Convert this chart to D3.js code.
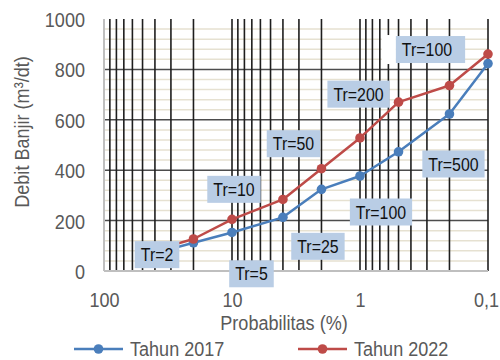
<!DOCTYPE html>
<html>
<head>
<meta charset="utf-8">
<script src="https://cdn.jsdelivr.net/npm/d3@7"></script>
<style>
  html, body { margin: 0; padding: 0; background: #fff; }
  svg { display: block; font-family: 'Liberation Sans', Arial, sans-serif; }
</style>
</head>
<body>
<svg id="chart" width="500" height="360"></svg>
<script>
// Peluang kejadian (%) untuk tiap kala ulang
const probabilities = [50, 20, 10, 4, 2, 1, 0.5, 0.2, 0.1];
// Debit banjir rencana (m3/dt)
const debit2017 = [57, 112, 153, 213, 324, 377, 473, 623, 823];
const debit2022 = [69, 127, 205, 284, 406, 528, 670, 736, 861];
const seriesNames = ["Tahun 2017", "Tahun 2022"];
const seriesColors = ["#4a7ebb", "#be4b48"];

const xTickValues = [100, 10, 1, 0.1];
const xTickLabels = ["100", "10", "1", "0,1"];
const yTickValues = [0, 200, 400, 600, 800, 1000];

// Keterangan kala ulang pada titik data
const labelTexts = ["Tr=2", "Tr=5", "Tr=10", "Tr=25", "Tr=50", "Tr=100", "Tr=200", "Tr=500", "Tr=100"];
const labelSeries = [0, 0, 1, 0, 1, 0, 1, 0, 1];
const labelIndex = [0, 1, 2, 3, 4, 5, 6, 7, 8];

// Penempatan kotak keterangan relatif terhadap titik: [dx, dy, lebar tambahan kanan, area putih kiri]
const labelLayout = [
  [14.5, -2, 0, 0],
  [58, 31, 0, 0],
  [2, -30, 0, 0],
  [35, 29, 0, 0],
  [-28, -25, 0, 0],
  [21, 36, 0, 0],
  [-40, -8, 0, 0],
  [4, 50, 0, 0],
  [-61, -4.5, 7, 14]
];

const SX = 0.86;          // teks sedikit dipadatkan
const FS = 21;            // ukuran huruf sumbu & legenda
const LFS = 18.5;         // ukuran huruf keterangan
const textGrey = "#595959";

const svg = d3.select("#chart");
const plotLeft = 104, plotRight = 488, plotTop = 19, plotBottom = 271;

const x = d3.scaleLog().domain([100, 0.1]).range([plotLeft, plotRight]);
const y = d3.scaleLinear().domain([0, 1000]).range([plotBottom, plotTop]);

const grid = svg.append("g");

// garis bantu horizontal minor (tiap 40)
const minorY = d3.range(40, 1000, 40).filter(v => v % 200 !== 0);
grid.selectAll("line.hminor").data(minorY).join("line")
  .attr("x1", plotLeft).attr("x2", plotRight)
  .attr("y1", d => y(d)).attr("y2", d => y(d))
  .attr("stroke", "#e6e1d1").attr("stroke-width", 1.5);

// garis bantu horizontal utama
grid.selectAll("line.hmajor").data(yTickValues.filter(v => v > 0 && v < 1000)).join("line")
  .attr("x1", plotLeft).attr("x2", plotRight)
  .attr("y1", d => y(d)).attr("y2", d => y(d))
  .attr("stroke", "#4d4d4d").attr("stroke-width", 1.5);

// garis bantu vertikal logaritmik
const xGrid = x.ticks().filter(v => v < 100);
grid.selectAll("line.v").data(xGrid).join("line")
  .attr("x1", d => x(d)).attr("x2", d => x(d))
  .attr("y1", plotTop).attr("y2", plotBottom)
  .attr("stroke", "#1e1e1e").attr("stroke-width", 1.6);

// garis sumbu kiri dan bawah
svg.append("line").attr("x1", plotLeft).attr("x2", plotLeft).attr("y1", plotTop).attr("y2", plotBottom)
  .attr("stroke", "#bfbfbf").attr("stroke-width", 2);
svg.append("line").attr("x1", plotLeft).attr("x2", plotRight).attr("y1", plotBottom).attr("y2", plotBottom)
  .attr("stroke", "#bfbfbf").attr("stroke-width", 2);

// sumbu X
const xAxis = svg.append("g").attr("transform", `translate(0,${plotBottom})`)
  .call(d3.axisBottom(x).tickValues(xTickValues)
    .tickFormat((d, i) => xTickLabels[i]).tickSize(0).tickPadding(0));
xAxis.select(".domain").remove();
xAxis.selectAll("text")
  .attr("y", 0).attr("dy", null)
  .attr("transform", (d, i) => {
    const shift = i === xTickValues.length - 1 ? -2 : 0;
    return `translate(${shift},36) scale(${SX},1)`;
  })
  .attr("fill", textGrey).style("font-size", FS + "px")
  .style("font-family", "'Liberation Sans', Arial, sans-serif");

// sumbu Y
const yAxis = svg.append("g").attr("transform", `translate(85,0)`)
  .call(d3.axisLeft(y).tickValues(yTickValues).tickFormat(d3.format("d"))
    .tickSize(0).tickPadding(0));
yAxis.select(".domain").remove();
yAxis.selectAll("text")
  .attr("x", 0).attr("dy", null)
  .attr("transform", `translate(0,7.5) scale(${SX},1)`)
  .attr("text-anchor", "end")
  .attr("fill", textGrey).style("font-size", FS + "px")
  .style("font-family", "'Liberation Sans', Arial, sans-serif");

// judul sumbu
svg.append("text")
  .attr("transform", `translate(284,330) scale(${SX},1)`)
  .attr("text-anchor", "middle").attr("fill", textGrey)
  .style("font-size", FS + "px").text("Probabilitas (%)");
svg.append("text")
  .attr("transform", `translate(28.5,132) rotate(-90) scale(${SX},1)`)
  .attr("text-anchor", "middle").attr("fill", textGrey)
  .style("font-size", FS + "px").text("Debit Banjir (m³/dt)");

// seri data
const seriesData = [debit2017, debit2022];
const line = d3.line().x(d => x(d.p)).y(d => y(d.v));
seriesData.forEach((vals, s) => {
  const pts = probabilities.map((p, i) => ({ p, v: vals[i] }));
  const g = svg.append("g");
  g.append("path").datum(pts).attr("d", line)
    .attr("fill", "none").attr("stroke", seriesColors[s]).attr("stroke-width", 2.5)
    .attr("stroke-linejoin", "round");
  g.selectAll("circle").data(pts).join("circle")
    .attr("cx", d => x(d.p)).attr("cy", d => y(d.v)).attr("r", 4.8)
    .attr("fill", seriesColors[s]);
});

// kotak keterangan kala ulang
const labelG = svg.append("g");
labelTexts.forEach((txt, k) => {
  const s = labelSeries[k], i = labelIndex[k];
  const [dx, dy, extra, clearLeft] = labelLayout[k];
  const cx = x(probabilities[i]) + dx;
  const cy = y(seriesData[s][i]) + dy;
  const g = labelG.append("g");
  const rect = g.append("rect");
  const t = g.append("text")
    .attr("transform", `translate(${cx},${cy + 6.6}) scale(${SX},1)`)
    .attr("text-anchor", "middle").attr("fill", "#111")
    .style("font-size", LFS + "px").text(txt);
  const w = t.node().getComputedTextLength() * SX + 12;
  const h = 27;
  if (clearLeft > 0) {
    g.insert("rect", "rect")
      .attr("x", cx - w / 2 - clearLeft).attr("y", cy - h / 2 - 1)
      .attr("width", clearLeft).attr("height", h + 2).attr("fill", "#fff");
  }
  rect.attr("x", cx - w / 2).attr("y", cy - h / 2)
    .attr("width", w + extra).attr("height", h).attr("fill", "#b9cde5");
});

// legenda
const legendX = [74, 298];
seriesNames.forEach((name, s) => {
  const g = svg.append("g").attr("transform", `translate(${legendX[s]},349)`);
  g.append("line").attr("x1", 0).attr("x2", 49).attr("y1", 0).attr("y2", 0)
    .attr("stroke", seriesColors[s]).attr("stroke-width", 2.5);
  g.append("circle").attr("cx", 24.5).attr("cy", 0).attr("r", 4.8).attr("fill", seriesColors[s]);
  g.append("text").attr("transform", `translate(56,6.5) scale(${SX},1)`)
    .attr("fill", textGrey).style("font-size", FS + "px").text(name);
});
</script>
</body>
</html>
